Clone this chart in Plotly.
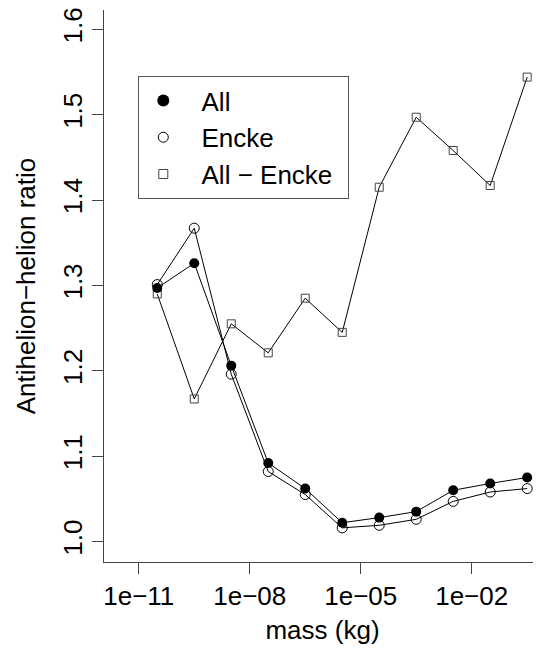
import plotly.graph_objects as go

mass = [3.16e-11, 3.16e-10, 3.16e-09, 3.16e-08, 3.16e-07, 3.16e-06,
        3.16e-05, 3.16e-04, 3.16e-03, 3.16e-02, 3.16e-01]
ratio_all = [1.297, 1.326, 1.206, 1.092, 1.062, 1.022, 1.028, 1.035, 1.060, 1.068, 1.075]
ratio_encke = [1.301, 1.367, 1.196, 1.082, 1.055, 1.016, 1.019, 1.026, 1.047, 1.058, 1.062]
ratio_diff = [1.290, 1.167, 1.255, 1.221, 1.285, 1.245, 1.415, 1.497, 1.458, 1.417, 1.544]

series_names = ["All", "Encke", "All \u2212 Encke"]
x_ticks = [1e-11, 1e-08, 1e-05, 1e-02]
x_ticktext = ["1e\u221211", "1e\u221208", "1e\u221205", "1e\u221202"]
y_ticks = [1.0, 1.1, 1.2, 1.3, 1.4, 1.5, 1.6]

FONT = "Liberation Sans, Arial, Helvetica, sans-serif"
fs = 26
pad = "\u2002\u2009"  # gap between legend symbol and label
tail = "\u2009\u2009"  # right padding inside legend box

fig = go.Figure()
line = dict(color="black", width=1)
fig.add_trace(go.Scatter(x=mass, y=ratio_diff, mode="lines+markers", line=line,
                         marker=dict(symbol="square-open", size=8, color="#444", line=dict(width=1)),
                         showlegend=False))
fig.add_trace(go.Scatter(x=mass, y=ratio_encke, mode="lines+markers", line=line,
                         marker=dict(symbol="circle-open", size=10, color="black", line=dict(width=1)),
                         showlegend=False))
fig.add_trace(go.Scatter(x=mass, y=ratio_all, mode="lines+markers", line=line,
                         marker=dict(symbol="circle", size=10, color="black"),
                         showlegend=False))
# legend entries (symbols only, as in the original)
fig.add_trace(go.Scatter(x=[None], y=[None], mode="markers", name=pad + series_names[0],
                         marker=dict(symbol="circle", size=12, color="black")))
fig.add_trace(go.Scatter(x=[None], y=[None], mode="markers", name=pad + series_names[1],
                         marker=dict(symbol="circle-open", size=10, color="black", line=dict(width=1))))
fig.add_trace(go.Scatter(x=[None], y=[None], mode="markers", name=pad + series_names[2] + tail,
                         marker=dict(symbol="square-open", size=9, color="#444", line=dict(width=1))))

fig.update_layout(
    width=541, height=649,
    margin=dict(l=96, r=8, t=2, b=95, autoexpand=False),
    paper_bgcolor="white", plot_bgcolor="white",
    font=dict(family=FONT, size=fs, color="black"),
    showlegend=True,
    legend=dict(x=0.0785, y=0.8804, xanchor="left", yanchor="top",
                bordercolor="#555", borderwidth=1, bgcolor="white",
                font=dict(size=fs), tracegroupgap=0, itemwidth=30, indentation=4),
)
fig.update_xaxes(type="log", range=[-11.94, -0.127], tickvals=x_ticks, ticktext=x_ticktext,
                 showline=True, linecolor="#444", linewidth=1, mirror=False, automargin=False,
                 ticks="outside", ticklen=11, tickcolor="#444", showgrid=False, zeroline=False,
                 ticklabeloverflow="allow",
                 title=dict(text="mass (kg)", standoff=10, font=dict(size=fs)), tickfont=dict(size=fs))
fig.update_yaxes(range=[0.976, 1.6226], tickvals=y_ticks, tickformat=".1f",
                 showline=True, linecolor="#444", linewidth=1, mirror=False, automargin=False,
                 ticks="outside", ticklen=11, tickcolor="#444", showgrid=False, zeroline=False,
                 ticklabeloverflow="allow",
                 tickangle=-90, title=dict(text="Antihelion\u2212helion ratio", standoff=14, font=dict(size=fs)),
                 tickfont=dict(size=fs))

fig.write_html("out.html")
